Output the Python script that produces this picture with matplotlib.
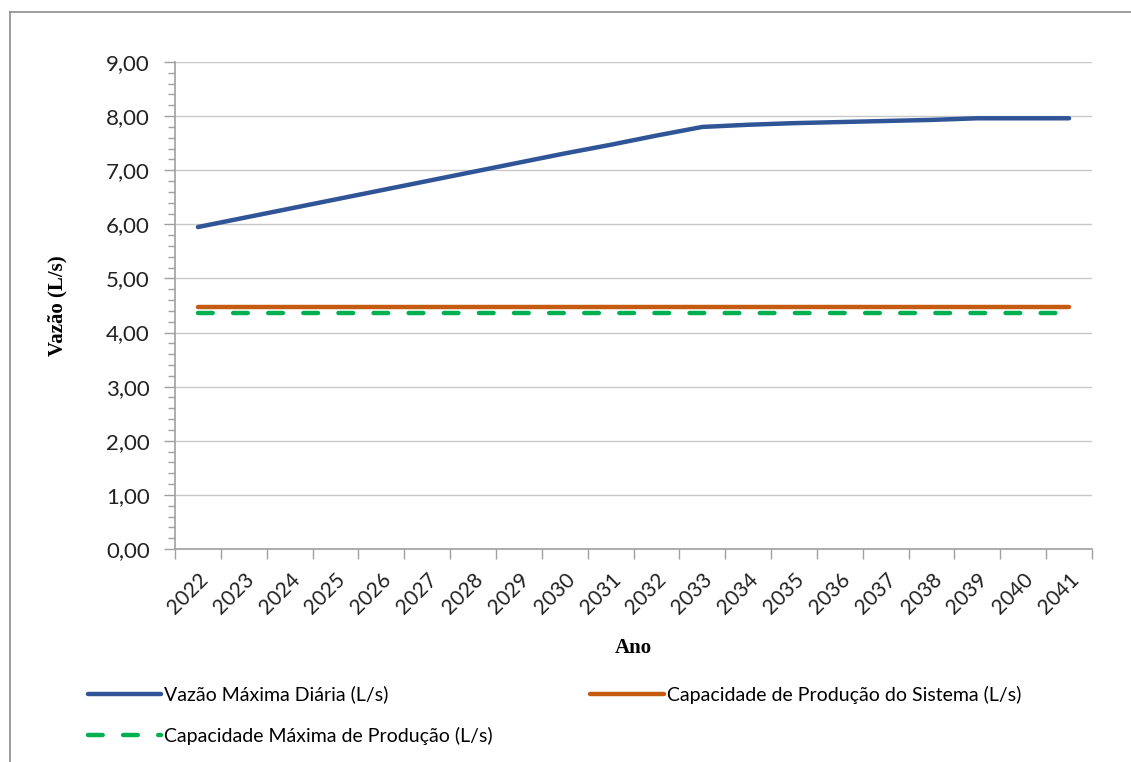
import matplotlib
matplotlib.use("Agg")
import matplotlib.pyplot as plt
from matplotlib.lines import Line2D
from matplotlib.ticker import MultipleLocator, FuncFormatter

anos = [str(a) for a in range(2022, 2042)]
vazao_max_diaria = [5.95, 6.12, 6.29, 6.46, 6.63, 6.80, 6.97, 7.14, 7.31, 7.47,
                    7.64, 7.80, 7.84, 7.87, 7.89, 7.91, 7.93, 7.96, 7.96, 7.96]
cap_producao_sistema = [4.48] * len(anos)
cap_maxima_producao = [4.36] * len(anos)

label_font = "Lato"
title_font = "Liberation Serif"

fig = plt.figure(figsize=(11.31, 7.62), dpi=100)
ax = fig.add_axes([175 / 1131, 1 - 549 / 762, (1092 - 175) / 1131, (549 - 62) / 762])

x = list(range(len(anos)))
l1, = ax.plot(x, vazao_max_diaria, color="#2F5597", lw=3.2, solid_capstyle="round")
l2, = ax.plot(x, cap_producao_sistema, color="#C55A11", lw=3.2, solid_capstyle="round")
l3, = ax.plot(x, cap_maxima_producao, color="#00B050", lw=3.2, dashes=(3.3, 4.6),
              dash_capstyle="round")

ax.set_xlim(-0.5, len(anos) - 0.5)
ax.set_ylim(0, 9)
ax.yaxis.set_major_locator(MultipleLocator(1))
ax.yaxis.set_minor_locator(MultipleLocator(0.2))
ax.yaxis.set_major_formatter(FuncFormatter(lambda v, p: f"{v:.2f}".replace(".", ",")))
ax.grid(axis="y", color="#c8c8c8", lw=1.0)
ax.set_axisbelow(True)

# category ticks sit between the categories
ax.set_xticks([i - 0.5 for i in range(len(anos) + 1)], minor=False)
ax.set_xticklabels([""] * (len(anos) + 1))
ax.set_xticks(x, minor=True)
ax.set_xticklabels(anos, minor=True, rotation=45, ha="right", rotation_mode="anchor",
                   fontsize=15, family=label_font, color="#222222")
ax.tick_params(axis="x", which="major", length=7, color="#a0a0a0", width=1)
ax.tick_params(axis="x", which="minor", length=0, pad=15)
ax.tick_params(axis="y", which="major", length=8, color="#a0a0a0", width=1,
               labelsize=16, labelcolor="#222222", pad=10)
ax.tick_params(axis="y", which="minor", length=5, color="#a0a0a0", width=1)
for lbl in ax.get_yticklabels():
    lbl.set_family(label_font)

for side in ("top", "right"):
    ax.spines[side].set_visible(False)
for side in ("left", "bottom"):
    ax.spines[side].set_color("#a0a0a0")
    ax.spines[side].set_linewidth(1.2)

ax.set_xlabel("Ano", family=title_font, fontweight="bold", fontsize=15, labelpad=14)
ax.set_ylabel("Vazão (L/s)", family=title_font, fontweight="bold", fontsize=15, labelpad=28)

fig.legend([l1, l3, l2],
           ["Vazão Máxima Diária (L/s)", "Capacidade Máxima de Produção (L/s)",
            "Capacidade de Produção do Sistema (L/s)"],
           ncol=2, loc="upper left", bbox_to_anchor=(70 / 1131, 1 - 668 / 762),
           frameon=False, prop={"family": label_font, "size": 14},
           handlelength=3.8, handletextpad=0.15, columnspacing=5.0, labelspacing=1.2)

# chart frame (left and top edges visible)
fig.add_artist(Line2D([10 / 1131, 10 / 1131], [0, 1 - 12 / 762], color="#8c8c8c", lw=1.2))
fig.add_artist(Line2D([10 / 1131, 1], [1 - 12 / 762, 1 - 12 / 762], color="#8c8c8c", lw=1.2))

fig.savefig("out.png", dpi=100)
